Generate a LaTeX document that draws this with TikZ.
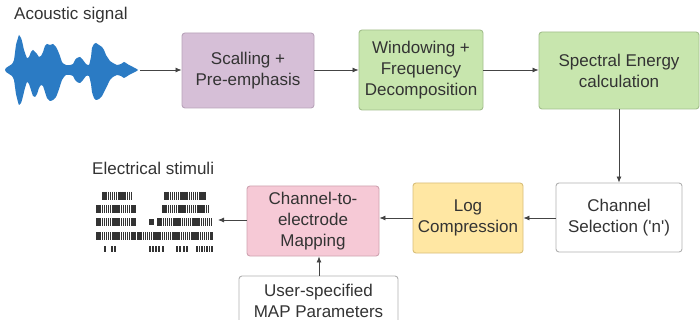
\documentclass[tikz,border=0pt]{standalone}
\usepackage{fontspec}
\setmainfont{Liberation Sans}
\newfontfamily\nqf{Liberation Sans}
\usetikzlibrary{arrows.meta}
\definecolor{txt}{HTML}{333333}
\definecolor{lin}{HTML}{444444}
\definecolor{wave}{HTML}{2B7BC4}
\definecolor{purp}{HTML}{D6BFD7}
\definecolor{purpb}{HTML}{B9A3BA}
\definecolor{grn}{HTML}{C8E6AE}
\definecolor{grnb}{HTML}{A3BF8C}
\definecolor{yel}{HTML}{FFE7A3}
\definecolor{yelb}{HTML}{D9BF7A}
\definecolor{pnk}{HTML}{F6C9D6}
\definecolor{pnkb}{HTML}{CFA3B1}
\definecolor{wbord}{HTML}{B0B0B0}
\definecolor{stim}{HTML}{333333}
\tikzset{
  blk/.style={draw, rounded corners=3pt, line width=0.9pt, align=center, text=txt,
    font=\fontsize{17}{21}\selectfont, inner sep=0pt},
  conn/.style={draw=lin, line width=0.8pt, -{Latex[length=6pt,width=5pt]}},
  lbl/.style={text=txt, font=\fontsize{17}{20}\selectfont, inner sep=0pt, anchor=west},
  sb/.style={draw=stim, line width=1.25pt}
}
\newcommand{\stimrow}[4]{% y, x1, x2, h
  \pgfmathsetmacro{\stimsec}{#2+1.9}%
  \pgfmathsetmacro{\stimtop}{#1-#4/2}%
  \pgfmathsetmacro{\stimbot}{#1+#4/2}%
  \foreach \xx in {#2,\stimsec,...,#3} {\draw[sb] (\xx,\stimtop) -- (\xx,\stimbot);}}
\begin{document}
\begin{tikzpicture}[x=1pt,y=-1pt]
\useasboundingbox (0,0) rectangle (700,320);
\clip (0,0) rectangle (700,320);
\fill[white] (0,0) rectangle (700,320);

% waveform
\fill[wave] plot[smooth, tension=0.3] coordinates {
 (5,70) (6,68) (9,66) (12,64) (14,60) (16,45) (18,38) (19,35) (21,38) (22,41) (24,50) (25,53) (27,58) (29,57) (31,52) (33,50) (35,52) (37,54) (39,57) (41,56) (43,52) (45,46) (47,44) (50,45) (53,44) (56,47) (58,51) (60,56) (62,62) (64,64) (66,65) (70,65) (73,64) (75,60) (77,58) (80,57) (83,60) (86,64) (89,65) (91,57) (92,48) (94,44) (96,43) (99,45) (102,47) (104,50) (106,55) (108,58) (110,61) (113,63) (117,65) (121,64) (124,62) (126,63) (129,65) (133,67) (138,70)
 (133,73) (129,75) (126,77) (124,78) (121,76) (117,75) (113,77) (110,80) (108,84) (106,88) (104,92) (102,96) (99,99) (96,100) (94,98) (92,92) (91,84) (89,76) (86,76) (83,80) (80,83) (77,82) (75,80) (73,76) (70,75) (66,75) (64,77) (62,80) (60,86) (58,92) (56,97) (53,100) (50,101) (47,98) (45,92) (43,86) (41,85) (39,88) (37,94) (35,97) (33,96) (31,90) (29,84) (27,82) (25,88) (24,92) (22,100) (21,103) (19,105) (18,102) (16,94) (14,80) (12,76) (9,74) (6,72)
};

% blocks
\node[blk, fill=purp, draw=purpb, minimum width=132pt, minimum height=75pt] (scal) at (248,70.5) {Scalling +\\Pre-emphasis};
\node[blk, fill=grn, draw=grnb, minimum width=124pt, minimum height=80pt] (wind) at (421,70) {Windowing +\\Frequency\\Decomposition};
\node[blk, fill=grn, draw=grnb, minimum width=160pt, minimum height=77pt] (spec) at (619,70.5) {Spectral Energy\\calculation};
\node[blk, fill=white, draw=wbord, minimum width=126pt, minimum height=69pt] (chan) at (619,217.5) {Channel\\Selection ({\nqf'}n{\nqf'})};
\node[blk, fill=yel, draw=yelb, minimum width=110pt, minimum height=70pt] (logc) at (468,218) {Log\\Compression};
\node[blk, fill=pnk, draw=pnkb, minimum width=132pt, minimum height=70pt] (map) at (313,221) {Channel-to-\\electrode\\Mapping};
\node[blk, fill=white, draw=wbord, minimum width=159pt, minimum height=50pt] (user) at (318.5,301) {User-specified\\MAP Parameters};

% labels
\node[lbl] (ac) at (14,15) {Acoustic signal};
\node[lbl] (el) at (92,168) {Electrical stimuli};

% stimuli
\stimrow{196}{103}{132}{8}
\stimrow{196}{165}{206}{8}
\stimrow{209}{97}{135}{8}
\stimrow{209}{163}{210}{8}
\stimrow{222}{97}{135}{8}
\stimrow{222}{150}{154}{6}
\stimrow{222}{158}{213}{8}
\stimrow{236}{97}{135}{8}
\stimrow{236}{138}{213}{8}
\foreach \xx in {105,112,115,150,153,156,159,163,177,180,184,187,197,199.5,202,204.5,207,209.5,212}
  {\draw[sb] (\xx,246) -- (\xx,252);}

% connectors
\coordinate (wend) at (140,70);
\coordinate (send) at (218,220);
\draw[conn] (wend) -- (wend -| scal.west);
\draw[conn] (scal.east |- 0,70) -- (wind.west |- 0,70);
\draw[conn] (wind.east) -- (spec.west |- wind.east);
\draw[conn] (spec.south) -- (chan.north);
\draw[conn] (chan.west |- logc.west) -- (logc.east);
\draw[conn] (logc.west) -- (logc.west -| map.east);
\draw[conn] (map.west |- send) -- (send);
\draw[conn] (user.north -| 319,0) -- (map.south -| 319,0);
\end{tikzpicture}
\end{document}
